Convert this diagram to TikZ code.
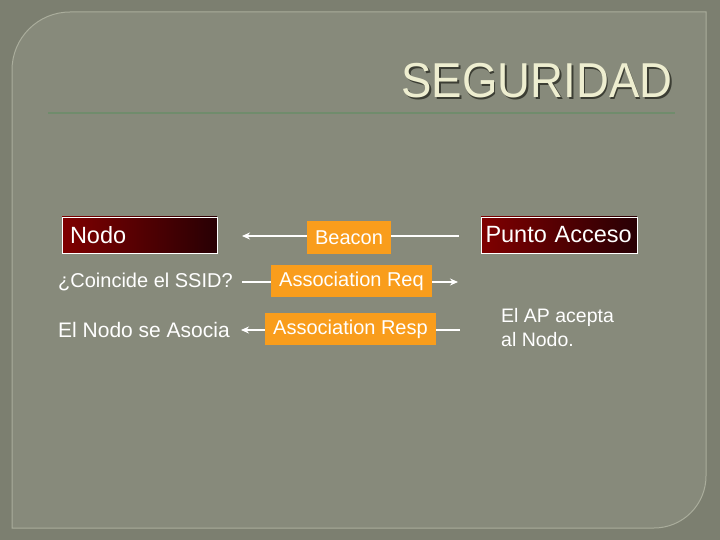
\documentclass[tikz,border=0pt]{standalone}
\usepackage{fontspec}
\setmainfont{Liberation Sans}
\newfontfamily\titlefont[FakeStretch=0.93]{Liberation Sans}
\usetikzlibrary{arrows.meta,positioning,calc}
\definecolor{slateOuter}{RGB}{124, 127, 112}
\definecolor{slatePanel}{RGB}{135, 138, 123}
\definecolor{slateEdge}{RGB}{170, 173, 156}
\definecolor{titleCream}{RGB}{238, 238, 208}
\definecolor{titleShade}{RGB}{60, 62, 52}
\definecolor{ruleGreen}{RGB}{112, 140, 108}
\definecolor{msgOrange}{RGB}{249, 157, 28}
\definecolor{stationRed}{RGB}{128, 0, 0}
\definecolor{stationDark}{RGB}{40, 0, 4}

\tikzset{
    station/.style={draw=white, line width=0.9pt, left color=stationRed, middle color=stationRed!92!black, right color=stationDark,
        minimum height=36pt, inner xsep=8pt, inner ysep=0pt, text=white, align=left,
        font=\fontsize{23.5pt}{26pt}\selectfont},
    msgbox/.style={fill=msgOrange, minimum height=32pt, inner sep=0pt, text=white,
        font=\fontsize{20pt}{22pt}\selectfont},
    note/.style={text=white, inner sep=0pt, font=\fontsize{20pt}{24pt}\selectfont},
    wire/.style={draw=white, line width=1.3pt},
    tip/.style={-{Stealth[length=8pt,width=7pt]}}
}

\begin{document}
\begin{tikzpicture}[x=1pt, y=-1pt]
                \useasboundingbox (0,0) rectangle (720,540);
                \fill[slateOuter] (0,0) rectangle (720,540);
                \draw[slateEdge, fill=slatePanel, line width=1pt] (12,528) -- (12,70) arc[start angle=180, end angle=270, radius=58]
                    -- (706,12) -- (706,476) arc[start angle=0, end angle=90, radius=52] -- cycle;

                \node[anchor=base east, text=titleShade, font=\titlefont\fontsize{49pt}{50pt}\selectfont] at (677.5,99.5) {SEGURIDAD};
                \node (title) [anchor=base east, text=titleCream, font=\titlefont\fontsize{49pt}{50pt}\selectfont] at (676,98) {SEGURIDAD};
                \draw[ruleGreen, line width=2pt] (48,113) -- (675,113);

                \node (nodo) [station, minimum width=155pt, text width=139pt] at (139.5,235) {\raisebox{-1.5pt}{Nodo}};
                \node (ap) [station, minimum width=156pt, inner xsep=4.5pt, text width=147pt] at (559,235) {\raisebox{-1.5pt}{Punto Acceso}};

                \node (beacon) [msgbox, minimum width=84pt] at (349,237.5) {\raisebox{-2.5pt}{Beacon}};
                \node (assocreq) [msgbox, minimum width=161pt] at (351.5,281) {Association Req};
                \node (assocresp) [msgbox, minimum width=171pt] at (350.5,329) {Association Resp};

                \node (coincide) [note, anchor=west] at (58,282) {¿Coincide el SSID?};
                \node (asocia) [note, anchor=west, font=\fontsize{21pt}{24pt}\selectfont] at (58,330) {El Nodo se Asocia};
                \node (acepta) [note, anchor=north west, align=left, font=\fontsize{19.5pt}{24pt}\selectfont] at (501,308) {El AP acepta\\al Nodo.};

                \coordinate (b1) at (459,236);
                \coordinate (b0) at (242,236);
                \coordinate (r0) at (242,282);
                \coordinate (r1) at (458,282);
                \coordinate (s1) at (460,330);
                \coordinate (s0) at (241,330);

                \draw[wire] (b1) -- (beacon.east |- b1);
                \draw[wire, tip] (beacon.west |- b0) -- (b0);
                \draw[wire] (r0) -- (assocreq.west |- r0);
                \draw[wire, tip] (assocreq.east |- r1) -- (r1);
                \draw[wire] (s1) -- (assocresp.east |- s1);
                \draw[wire, tip] (assocresp.west |- s0) -- (s0);
            \end{tikzpicture}
\end{document}
